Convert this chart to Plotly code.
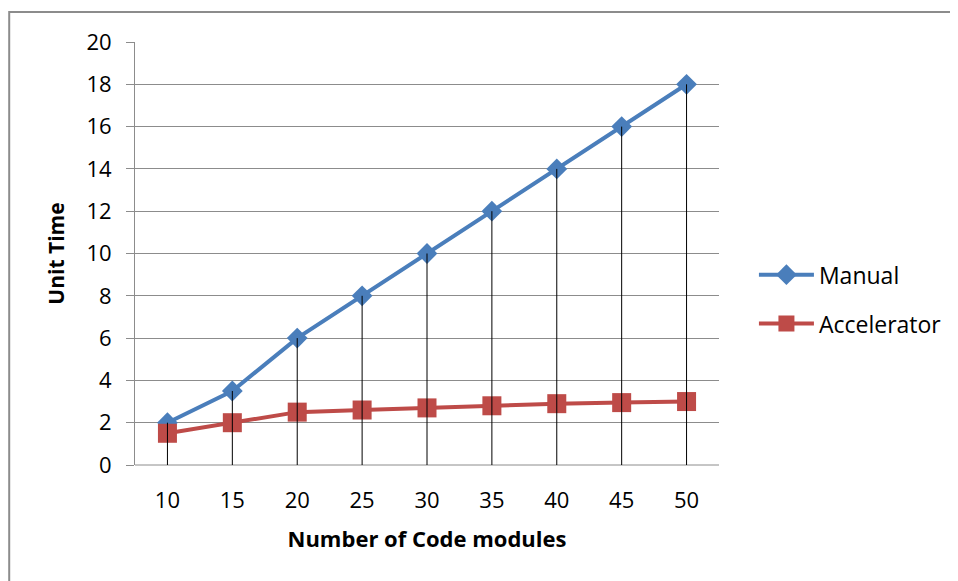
import plotly.graph_objects as go

modules = [10, 15, 20, 25, 30, 35, 40, 45, 50]
manual = [2, 3.5, 6, 8, 10, 12, 14, 16, 18]
accelerator = [1.5, 2, 2.5, 2.6, 2.7, 2.8, 2.9, 2.95, 3.0]
y_ticks = list(range(0, 21, 2))

cats = [str(m) for m in modules]

# drop lines from Manual points down to axis
drop_x, drop_y = [], []
for c, v in zip(cats, manual):
    drop_x += [c, c, None]
    drop_y += [0, v, None]

fig = go.Figure()
fig.add_trace(go.Scatter(
    x=cats, y=manual, name="Manual", mode="lines+markers", legendgroup="m",
    line=dict(color="#4A7EBB", width=4),
    marker=dict(symbol="diamond", size=16, color="#4A7EBB"),
))
fig.add_trace(go.Scatter(
    x=cats, y=accelerator, name="Accelerator", mode="lines+markers", legendgroup="a",
    line=dict(color="#BE4B48", width=4),
    marker=dict(symbol="square", size=19, color="#BE4B48"),
))
fig.add_trace(go.Scatter(
    x=drop_x, y=drop_y, mode="lines", showlegend=False, hoverinfo="skip",
    line=dict(color="#000000", width=1),
))

font_family = "'Open Sans', Lato, sans-serif"

# page body has an 8px margin, so the figure is sized/offset to compensate
fig.update_layout(
    width=950, height=573,
    margin=dict(l=127, r=238, t=34, b=116),
    paper_bgcolor="white", plot_bgcolor="white",
    font=dict(family=font_family, size=22, color="#000000"),
    showlegend=True,
    legend=dict(x=1.058, y=0.392, xanchor="left", yanchor="middle",
                font=dict(size=23), itemwidth=55, tracegroupgap=16,
                traceorder="grouped",
                bgcolor="rgba(0,0,0,0)"),
    xaxis=dict(
        type="category", range=[-0.5, 8.5],
        showgrid=False, zeroline=False, showline=False,
        ticks="", ticklabelstandoff=20,
        title=dict(text="<b>Number of Code modules</b>", font=dict(size=22), standoff=18),
    ),
    yaxis=dict(
        range=[0, 20], tickvals=y_ticks,
        showgrid=True, gridcolor="#8C8C8C", gridwidth=1,
        zeroline=False, showline=True, linecolor="#8C8C8C", linewidth=1,
        ticks="outside", ticklen=8, tickcolor="#8C8C8C",
        ticklabelstandoff=10,
        title=dict(text="<b>Unit Time</b>", font=dict(size=21), standoff=16),
    ),
    shapes=[dict(type="line", xref="paper", yref="paper", x0=0, x1=1, y0=0, y1=0,
                 line=dict(color="#8C8C8C", width=1), layer="below"),
            dict(type="rect", xref="paper", yref="paper",
                 x0=-0.2154, x1=1.6, y0=-0.5, y1=1.0709,
                 line=dict(color="#8C8C8C", width=2), layer="below")],
)

fig.write_html("out.html")
